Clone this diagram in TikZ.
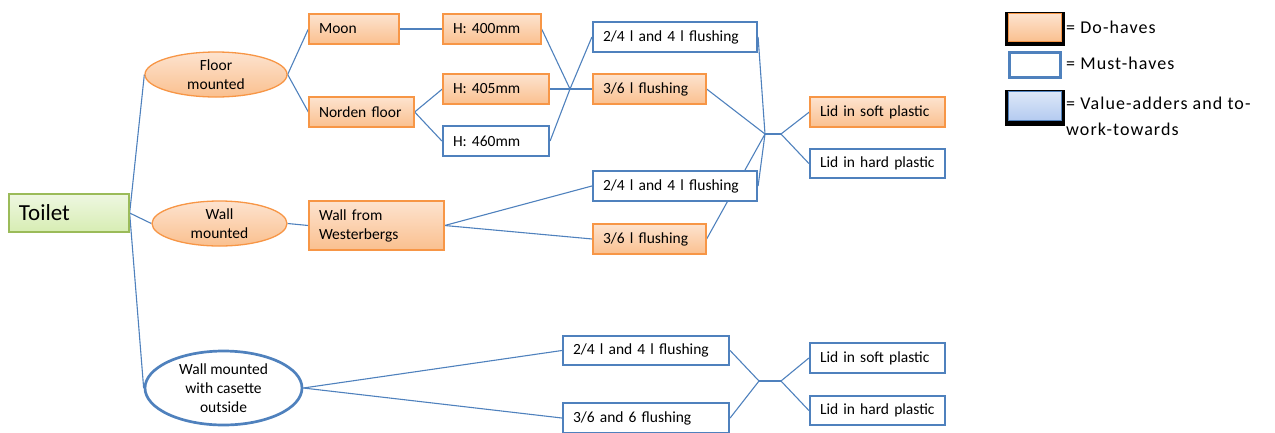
\documentclass[tikz,border=0pt]{standalone}
\usepackage{fontspec}
\setmainfont{Carlito}
\newfontfamily\legendfont[LetterSpace=6]{Carlito}
\usetikzlibrary{shapes.geometric,backgrounds}

\definecolor{doBorder}{HTML}{F79646}
\definecolor{doTop}{HTML}{FDE3CF}
\definecolor{doBot}{HTML}{FAC08F}
\definecolor{mustBlue}{HTML}{4F81BD}
\definecolor{rootBorder}{HTML}{9BBB59}
\definecolor{rootTop}{HTML}{EEF7E1}
\definecolor{rootBot}{HTML}{D7EDB3}
\definecolor{valTop}{HTML}{DDE7F8}
\definecolor{valBot}{HTML}{B4CBF0}

\tikzset{
  txt/.style={font=\fontsize{15.5}{19}\selectfont},
  base/.style={txt, rectangle, inner xsep=10pt, inner ysep=0pt, align=left},
  dohave/.style={base, draw=doBorder, line width=1.3pt, top color=doTop, bottom color=doBot},
  musthave/.style={base, draw=mustBlue, line width=2.2pt, fill=white},
  rootbox/.style={base, draw=rootBorder, line width=1.3pt, top color=rootTop, bottom color=rootBot},
  ellbase/.style={txt, ellipse, inner sep=0pt, align=center},
  elldo/.style={ellbase, draw=doBorder, line width=1.3pt, top color=doTop, bottom color=doBot},
  ellmust/.style={ellbase, draw=mustBlue, line width=2.7pt, fill=white},
  conn/.style={draw=mustBlue, line width=1.1pt},
  legtext/.style={font=\legendfont\fontsize{18}{26}\selectfont, inner sep=0pt, align=left, anchor=west},
}

\begin{document}
\begin{tikzpicture}[x=1pt, y=-1pt]
\useasboundingbox (0,0) rectangle (1275,432);

% root
\node[rootbox, text width=100pt, minimum height=38pt, font=\fontsize{23}{26}\selectfont] (toilet) at (69,213) {Toilet};

% mounting types
\node[elldo, minimum width=142pt, minimum height=45pt] (floor) at (216,74.5) {Floor\\mounted};
\node[elldo, minimum width=135pt, minimum height=45pt] (wall) at (219.5,223.5) {Wall\\mounted};
\node[ellmust, minimum width=157pt, minimum height=74pt] (cas) at (223.5,388) {Wall mounted\\with casette\\outside};

% models
\node[dohave, text width=70pt, minimum height=30pt] (moon) at (354,29) {Moon};
\node[dohave, text width=85pt, minimum height=30pt] (norden) at (361.5,112) {Norden floor};
\node[dohave, text width=115pt, minimum height=49pt] (wfw) at (376.5,225.5) {Wall from\\Westerbergs};

% heights
\node[dohave, text width=78pt, minimum height=30pt] (h400) at (492,29) {H: 400mm};
\node[dohave, text width=86pt, minimum height=30pt] (h405) at (496,89) {H: 405mm};
\node[musthave, text width=86pt, minimum height=30pt] (h460) at (496,141) {H: 460mm};

% flushing
\node[musthave, text width=144pt, minimum height=30pt] (t24) at (675,37) {2/4 l and 4 l flushing};
\node[dohave, text width=93pt, minimum height=30pt] (t36) at (649.5,89) {3/6 l flushing};
\node[musthave, text width=144pt, minimum height=30pt] (m24) at (675,186) {2/4 l and 4 l flushing};
\node[dohave, text width=93pt, minimum height=30pt] (m36) at (649.5,239) {3/6 l flushing};
\node[musthave, text width=146pt, minimum height=29pt] (b24) at (646,350.5) {2/4 l and 4 l flushing};
\node[musthave, text width=146pt, minimum height=30pt] (b36) at (646,418) {3/6 and 6 flushing};

% lids
\node[dohave, text width=115pt, minimum height=30pt] (ls1) at (877.5,112) {Lid in soft plastic};
\node[musthave, text width=115pt, minimum height=29pt] (lh1) at (877.5,163.5) {Lid in hard plastic};
\node[musthave, text width=115pt, minimum height=30pt] (ls2) at (877.5,358) {Lid in soft plastic};
\node[musthave, text width=115pt, minimum height=29pt] (lh2) at (877.5,410.5) {Lid in hard plastic};

% junction points
\coordinate (j1) at (570,89);
\coordinate (j2) at (765,134);
\coordinate (k2) at (781,134);
\coordinate (j3) at (759,381);
\coordinate (k3) at (781,381);

% legend
\node[fill=black, minimum width=60pt, minimum height=34.5pt, inner sep=0pt] (lgk1) at (1035,29.2) {};
\node[draw=doBorder, line width=1.3pt, top color=doTop, bottom color=doBot, minimum width=53pt, minimum height=28pt, inner sep=0pt] (lg1) at (1035,27.5) {};
\node[draw=mustBlue, line width=2.2pt, fill=white, minimum width=51pt, minimum height=25pt, inner sep=0pt] (lg2) at (1035,65) {};
\node[fill=black, minimum width=60pt, minimum height=36pt, inner sep=0pt] (lgk3) at (1035,108) {};
\node[draw=mustBlue, line width=1.3pt, top color=valTop, bottom color=valBot, minimum width=53pt, minimum height=29pt, inner sep=0pt] (lg3) at (1035,106) {};
\node[legtext] (lt1) at (1066,27) {= Do-haves};
\node[legtext] (lt2) at (1066,63) {= Must-haves};
\node[legtext] (lt3) at (1066,116) {= Value-adders and to-\\work-towards};

\begin{scope}[on background layer]
\draw[conn] (toilet.east) -- (floor.west);
\draw[conn] (toilet.east) -- (wall.west);
\draw[conn] (toilet.east) -- (cas.west);
\draw[conn] (floor.east) -- (moon.west);
\draw[conn] (floor.east) -- (norden.west);
\draw[conn] (moon.east) -- (h400.west);
\draw[conn] (norden.east) -- (h405.west);
\draw[conn] (norden.east) -- (h460.west);
\draw[conn] (h400.east) -- (j1);
\draw[conn] (h405.east) -- (j1);
\draw[conn] (h460.east) -- (j1);
\draw[conn] (j1) -- (t24.west);
\draw[conn] (j1) -- (t36.west);
\draw[conn] (wall.east) -- (wfw.west);
\draw[conn] (wfw.east) -- (m24.west);
\draw[conn] (wfw.east) -- (m36.west);
\draw[conn] (t24.east) -- (j2);
\draw[conn] (t36.east) -- (j2);
\draw[conn] (m24.east) -- (j2);
\draw[conn] (m36.east) -- (j2);
\draw[conn] (j2) -- (k2);
\draw[conn] (k2) -- (ls1.west);
\draw[conn] (k2) -- (lh1.west);
\draw[conn] (cas.east) -- (b24.west);
\draw[conn] (cas.east) -- (b36.west);
\draw[conn] (b24.east) -- (j3);
\draw[conn] (b36.east) -- (j3);
\draw[conn] (j3) -- (k3);
\draw[conn] (k3) -- (ls2.west);
\draw[conn] (k3) -- (lh2.west);
\end{scope}
\end{tikzpicture}
\end{document}
